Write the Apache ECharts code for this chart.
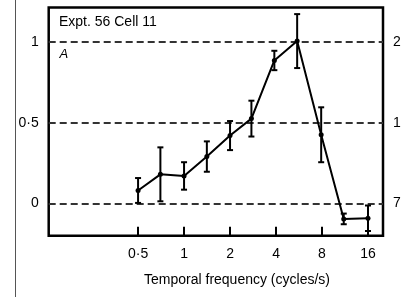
<!DOCTYPE html>
<html>
<head>
<meta charset="utf-8">
<script src="https://cdn.jsdelivr.net/npm/echarts@6/dist/echarts.min.js"></script>
<style>
html, body { margin: 0; padding: 0; background: #fff; }
#main { width: 401px; height: 297px; }
</style>
</head>
<body>
<div id="main"></div>
<script>
var dom = document.getElementById("main");
var myChart = echarts.init(dom);

// temporal frequency (cycles/s), normalised response, error (+/-)
var freq = [0.5, 0.7, 1.0, 1.41, 2.0, 2.76, 3.9, 5.5, 7.9, 11.1, 16];
var resp = [0.08, 0.18, 0.17, 0.29, 0.42, 0.525, 0.885, 1.005, 0.425, -0.096, -0.092];
var err  = [0.077, 0.167, 0.085, 0.094, 0.09, 0.111, 0.06, 0.167, 0.17, 0.033, 0.079];

var xTicks = [0.5, 1, 2, 4, 8, 16];
var yTicks = [0, 0.5, 1];
var rightLabels = ['7', '18', '29'];   // spikes/s, right hand scale

var lineData = [];
var barData = [];
for (var i = 0; i < freq.length; i++) {
    lineData.push([freq[i], resp[i]]);
    barData.push([freq[i], resp[i], err[i]]);
}

var font = 'Liberation Sans, Arial, sans-serif';

var option = {
    animation: false,
    grid: {
        left: 48.7, right: 18, top: 7.5, bottom: 61.3,
        outerBoundsMode: 'none',
        containLabel: false,
        show: true,
        borderColor: '#000',
        borderWidth: 2.5,
        backgroundColor: 'transparent'
    },
    xAxis: {
        type: 'log',
        logBase: 2,
        min: 0.130,
        max: 20.06,
        axisLine: { show: false, onZero: false },
        splitLine: { show: false },
        axisTick: {
            show: true, inside: true, length: 9,
            customValues: xTicks,
            lineStyle: { color: '#000', width: 2 }
        },
        axisLabel: {
            customValues: xTicks,
            margin: 11,
            fontFamily: font, fontSize: 14, color: '#000',
            formatter: function (v) { return String(v).replace('.', '\u00b7'); }
        }
    },
    yAxis: [{
        type: 'value',
        min: -0.2,
        max: 1.213,
        axisLine: { show: false },
        axisTick: { show: false, customValues: yTicks },
        splitLine: {
            show: true,
            lineStyle: { color: '#333', width: 2, type: [7, 4] }
        },
        axisLabel: {
            customValues: yTicks,
            margin: 10,
            fontFamily: font, fontSize: 14, color: '#000',
            formatter: function (v) { return String(v).replace('.', '\u00b7'); }
        }
    }, {
        type: 'value',
        position: 'right',
        min: -0.2,
        max: 1.213,
        axisLine: { show: false },
        axisTick: { show: false, customValues: yTicks },
        splitLine: { show: false },
        axisLabel: {
            customValues: yTicks,
            margin: 10,
            fontFamily: font, fontSize: 14, color: '#000',
            formatter: function (v) { return rightLabels[yTicks.indexOf(v)]; }
        }
    }],
    graphic: [
        { type: 'line', shape: { x1: 15.5, y1: 0, x2: 15.5, y2: 297 }, style: { stroke: '#555', lineWidth: 1 } },
        { type: 'text', left: 59, top: 15, style: { text: 'Expt. 56 Cell 11', font: '14px ' + font, fill: '#000' } },
        { type: 'text', left: 59.5, top: 47.5, style: { text: 'A', font: 'italic 13px ' + font, fill: '#000' } },
        { type: 'text', x: 237, y: 280, style: { text: 'Temporal frequency (cycles/s)', font: '14px ' + font, fill: '#000', align: 'center', verticalAlign: 'middle' } }
    ],
    series: [{
        type: 'custom',
        data: barData,
        z: 2,
        renderItem: function (params, api) {
            var x = api.value(0), y = api.value(1), e = api.value(2);
            var top = api.coord([x, y + e]);
            var bot = api.coord([x, y - e]);
            var hw = 3;
            var st = { stroke: '#000', lineWidth: 2 };
            return {
                type: 'group',
                children: [
                    { type: 'line', shape: { x1: top[0], y1: top[1], x2: bot[0], y2: bot[1] }, style: st },
                    { type: 'line', shape: { x1: top[0] - hw, y1: top[1], x2: top[0] + hw, y2: top[1] }, style: st },
                    { type: 'line', shape: { x1: bot[0] - hw, y1: bot[1], x2: bot[0] + hw, y2: bot[1] }, style: st }
                ]
            };
        }
    }, {
        type: 'line',
        data: lineData,
        z: 3,
        symbol: 'circle',
        symbolSize: 5,
        itemStyle: { color: '#000' },
        lineStyle: { color: '#000', width: 2 }
    }]
};

myChart.setOption(option);
window.onresize = function () {
    myChart.resize();
};
</script>
</body>
</html>
